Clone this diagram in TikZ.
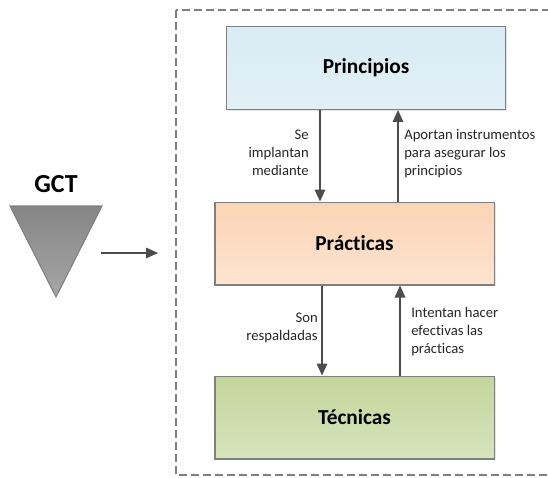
\documentclass[tikz,border=0pt]{standalone}
\usepackage{fontspec}
\setmainfont[Ligatures=NoCommon]{Carlito}
\usetikzlibrary{arrows.meta,shadows}
\definecolor{boxedge}{HTML}{7F7F7F}
\definecolor{framegray}{HTML}{7F7F7F}
\definecolor{linkgray}{HTML}{4D4D4D}
\definecolor{labelgray}{HTML}{262626}
\definecolor{prinTop}{HTML}{D8ECF3}
\definecolor{prinBot}{HTML}{E2F0F6}
\definecolor{pracTop}{HTML}{FBD4B4}
\definecolor{pracBot}{HTML}{FDE4D0}
\definecolor{tecTop}{HTML}{C3D69B}
\definecolor{tecBot}{HTML}{D7E4BD}
\definecolor{funnelTop}{HTML}{858585}
\definecolor{funnelBot}{HTML}{A6A6A6}
\tikzset{
  stage/.style={draw=boxedge, line width=1pt, minimum width=209.5pt, minimum height=62pt,
    font=\fontsize{16}{19}\selectfont\bfseries, text=black,
    drop shadow={opacity=0.2, shadow xshift=1pt, shadow yshift=-1pt}},
  link/.style={draw=linkgray, line width=0.8pt, -{Triangle[length=9pt,width=8pt]}},
  note/.style={font=\fontsize{11}{13.5}\selectfont, text=labelgray, inner sep=0pt},
}
\begin{document}
\begin{tikzpicture}[x=0.75pt, y=-0.75pt]
\useasboundingbox (0,0) rectangle (548,477);
\clip (0,0) rectangle (548,477);

% dashed frame around the three stages
\draw[framegray, line width=1.2pt, dash pattern=on 6pt off 3pt] (176,10) rectangle (570,475);

% the three stages
\node[stage, top color=prinTop, bottom color=prinBot] (prin) at (366,68) {Principios};
\node[stage, top color=pracTop, bottom color=pracBot] (prac) at (354.5,243.5) {Prácticas};
\node[stage, top color=tecTop, bottom color=tecBot] (tec) at (354.5,417.5) {Técnicas};

% columns of the vertical links
\coordinate (downA) at (320,0);
\coordinate (upA) at (398,0);
\coordinate (downB) at (322,0);
\coordinate (upB) at (400,0);

\draw[link] (prin.south -| downA) -- (prac.north -| downA);
\draw[link] (prac.north -| upA) -- (prin.south -| upA);
\draw[link] (prac.south -| downB) -- (tec.north -| downB);
\draw[link] (tec.north -| upB) -- (prac.south -| upB);

% link labels
\node[note, align=right, anchor=east] (l1) at (309,153) {Se\\implantan\\mediante};
\node[note, align=left, anchor=west] (l2) at (404,154) {Aportan instrumentos\\para asegurar los\\principios};
\node[note, align=right, anchor=east] (l3) at (318,328) {Son\\respaldadas};
\node[note, align=left, anchor=west] (l4) at (411,332) {Intentan hacer\\efectivas las\\prácticas};

% GCT funnel
\shade[top color=funnelTop, bottom color=funnelBot, draw=boxedge, line width=0.8pt]
  (10,206) -- (102,206) -- (56,297) -- cycle;
\node[font=\fontsize{19.5}{22}\selectfont\bfseries, text=black] (gct) at (56,184) {GCT};

\coordinate (gstart) at (101,253);
\coordinate (gend) at (158,253);
\draw[link] (gstart) -- (gend);
\end{tikzpicture}
\end{document}
